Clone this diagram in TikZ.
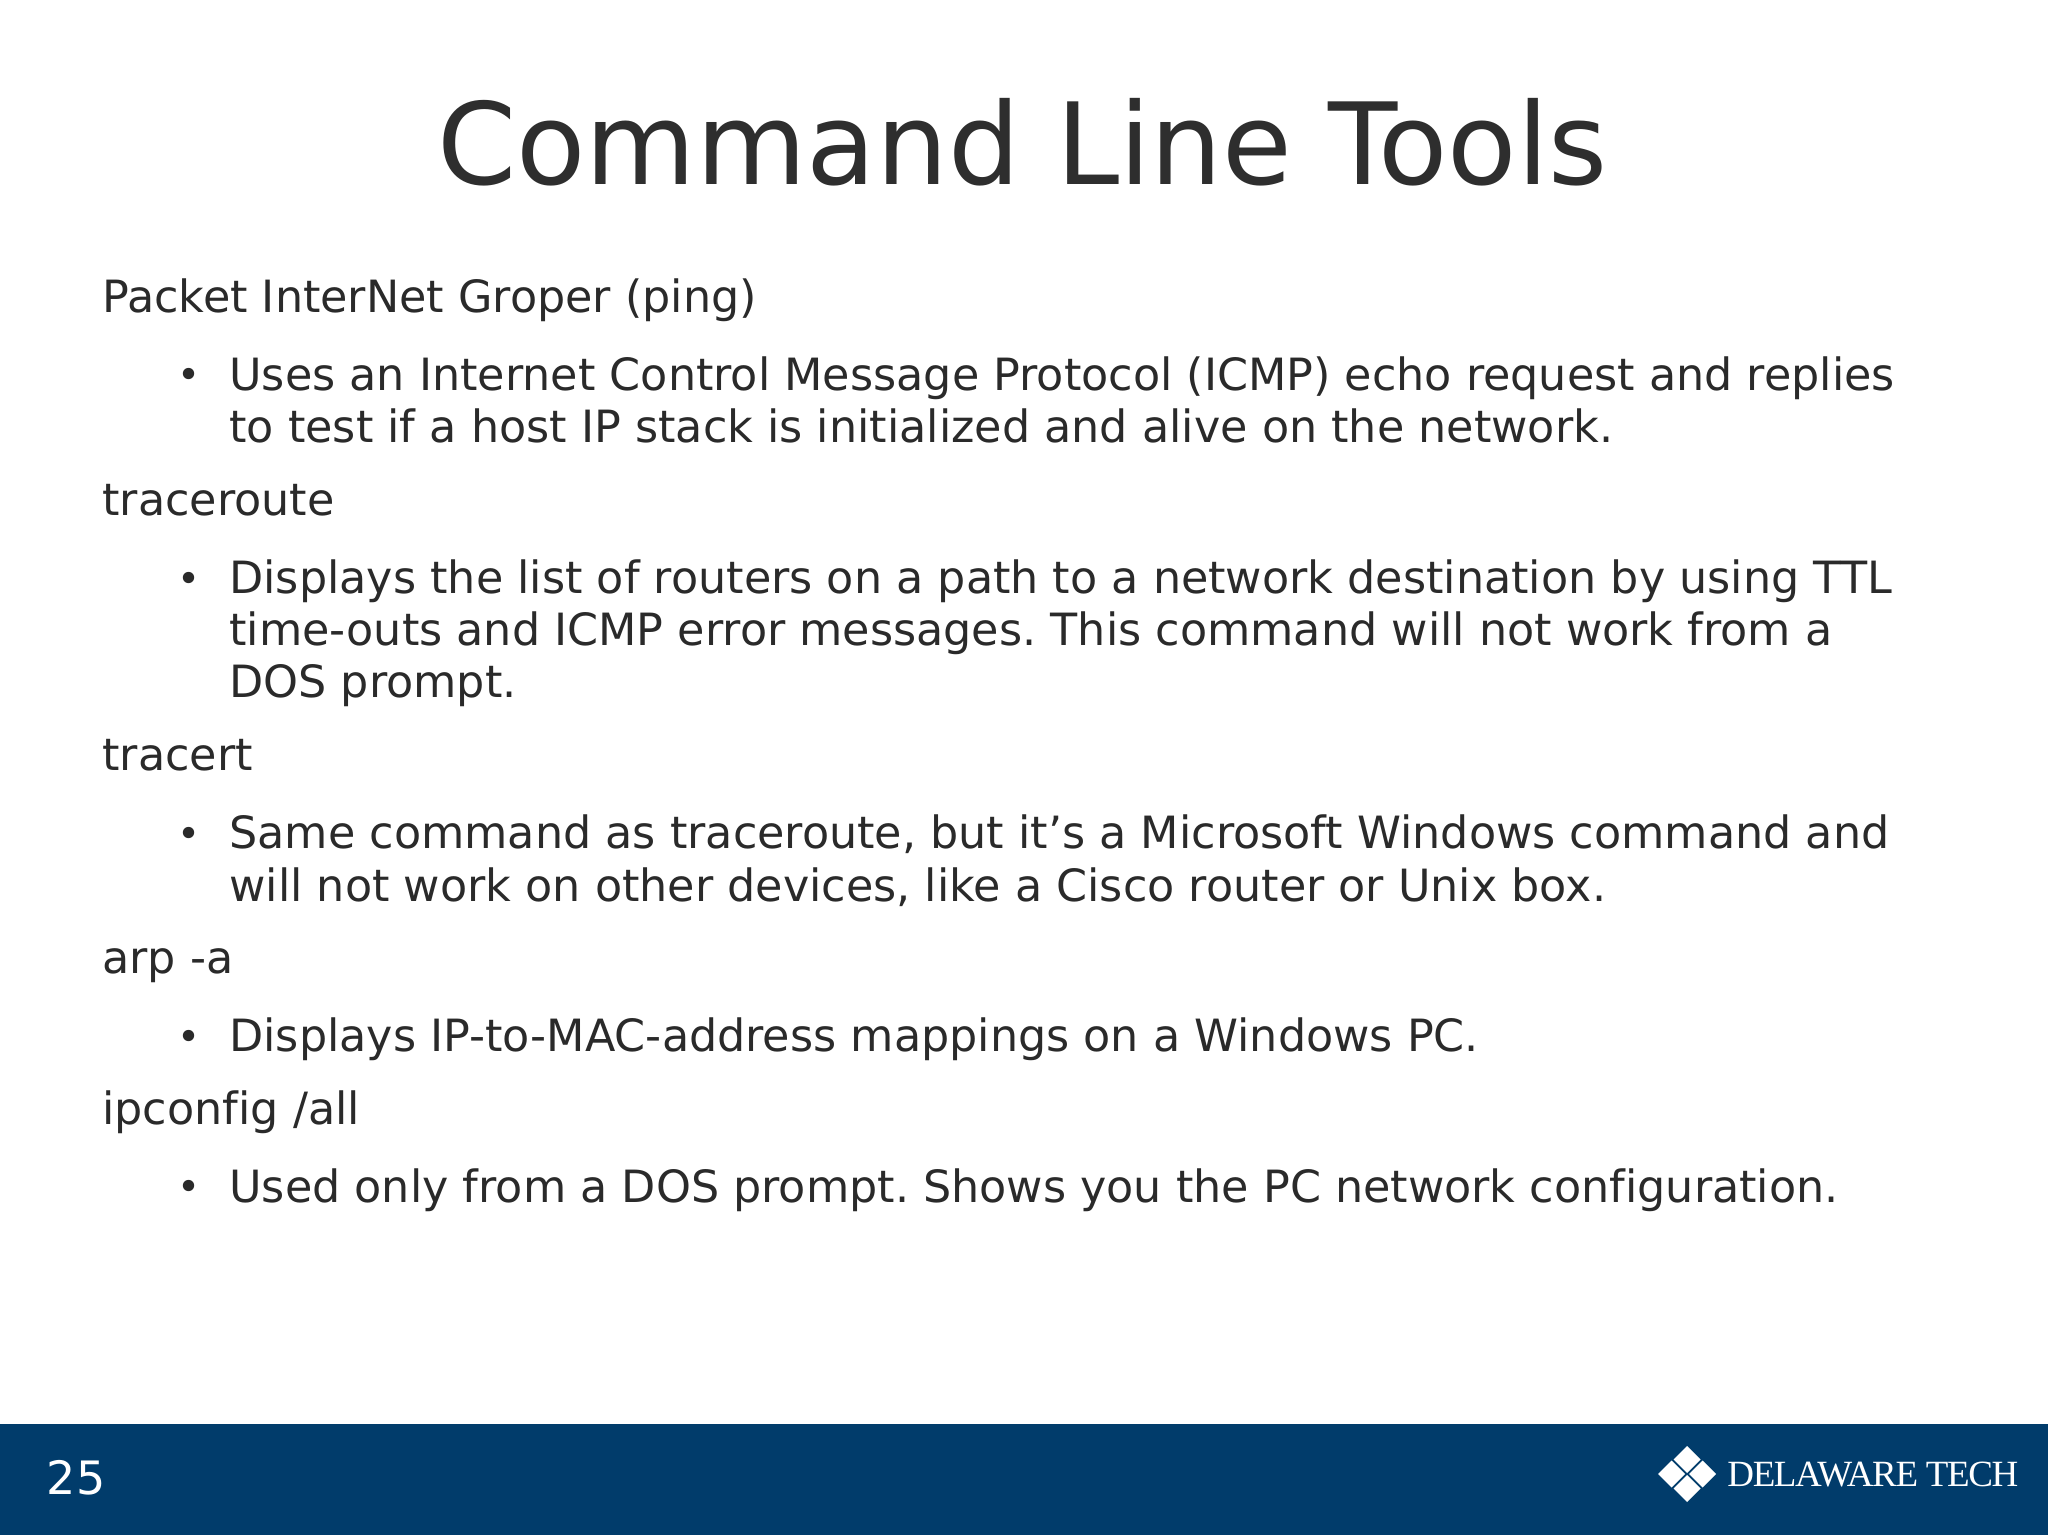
\documentclass[tikz,border=0pt]{standalone}
\usepackage{fontspec}
\setmainfont[Ligatures=NoCommon]{DejaVu Sans}
\newfontfamily\logofont[LetterSpace=-3.8]{Liberation Serif}
\definecolor{barblue}{HTML}{013C6B}
\definecolor{bodyink}{HTML}{2A2A2A}
\definecolor{titleink}{HTML}{2E2E2E}
\tikzset{
  bodyline/.style={anchor=base west,inner sep=0pt,text=bodyink,font=\fontsize{22.22}{26}\selectfont\frenchspacing},
  bulletmark/.style={anchor=base,inner sep=0pt,text=bodyink,font=\fontsize{19.5}{23}\selectfont},
  titleline/.style={anchor=base,inner sep=0pt,text=titleink,font=\fontsize{56.7}{66}\selectfont},
  diamondpart/.style={fill=white,draw=none}
}
\begin{document}
\begin{tikzpicture}[x=0.5pt,y=-0.5pt]
\useasboundingbox (0,0) rectangle (2048,1535);
\fill[white] (0,0) rectangle (2048,1535);
\fill[barblue] (0,1424) rectangle (2048,1535);
\node[titleline] (title) at (1022.5,185) {Command Line Tools};
\node[bodyline] (l1) at (102,313) {Packet InterNet Groper (ping)};
\node[bulletmark] (b1) at (189,388.5) {•};
\node[bodyline] (l2) at (229,390) {Uses an Internet Control Message Protocol (ICMP) echo request and replies};
\node[bodyline] (l3) at (229,442.5) {to test if a host IP stack is initialized and alive on the network.};
\node[bodyline] (l4) at (102,515.5) {traceroute};
\node[bulletmark] (b2) at (189,592) {•};
\node[bodyline] (l5) at (229,593.5) {Displays the list of routers on a path to a network destination by using TTL};
\node[bodyline] (l6) at (229,645.5) {time-outs and ICMP error messages. This command will not work from a};
\node[bodyline] (l7) at (229,697) {DOS prompt.};
\node[bodyline] (l8) at (102,770) {tracert};
\node[bulletmark] (b3) at (189,847) {•};
\node[bodyline] (l9) at (229,848.5) {Same command as traceroute, but it’s a Microsoft Windows command and};
\node[bodyline] (l10) at (229,901) {will not work on other devices, like a Cisco router or Unix box.};
\node[bodyline] (l11) at (102,973) {arp -a};
\node[bulletmark] (b4) at (189,1050) {•};
\node[bodyline] (l12) at (229,1051.5) {Displays IP-to-MAC-address mappings on a Windows PC.};
\node[bodyline] (l13) at (102,1124) {ipconfig /all};
\node[bulletmark] (b5) at (189,1200) {•};
\node[bodyline] (l14) at (229,1202) {Used only from a DOS prompt. Shows you the PC network configuration.};
\node[anchor=base west,inner sep=0pt,text=white,font=\fontsize{23}{27}\selectfont] (page) at (46.5,1494) {25};
% logo
\fill[diamondpart] (1687,1446) -- (1700.5,1459.5) -- (1687,1473) -- (1673.5,1459.5) -- cycle;
\fill[diamondpart] (1687,1502) -- (1700.5,1488.5) -- (1687,1475) -- (1673.5,1488.5) -- cycle;
\fill[diamondpart] (1658,1474) -- (1671.5,1460.5) -- (1685,1474) -- (1671.5,1487.5) -- cycle;
\fill[diamondpart] (1716,1474) -- (1702.5,1460.5) -- (1689,1474) -- (1702.5,1487.5) -- cycle;
\node[anchor=base west,inner sep=0pt,text=white,font=\logofont\fontsize{18.5}{22}\selectfont] (logo) at (1727,1486) {DELAWARE TECH};
\end{tikzpicture}
\end{document}
